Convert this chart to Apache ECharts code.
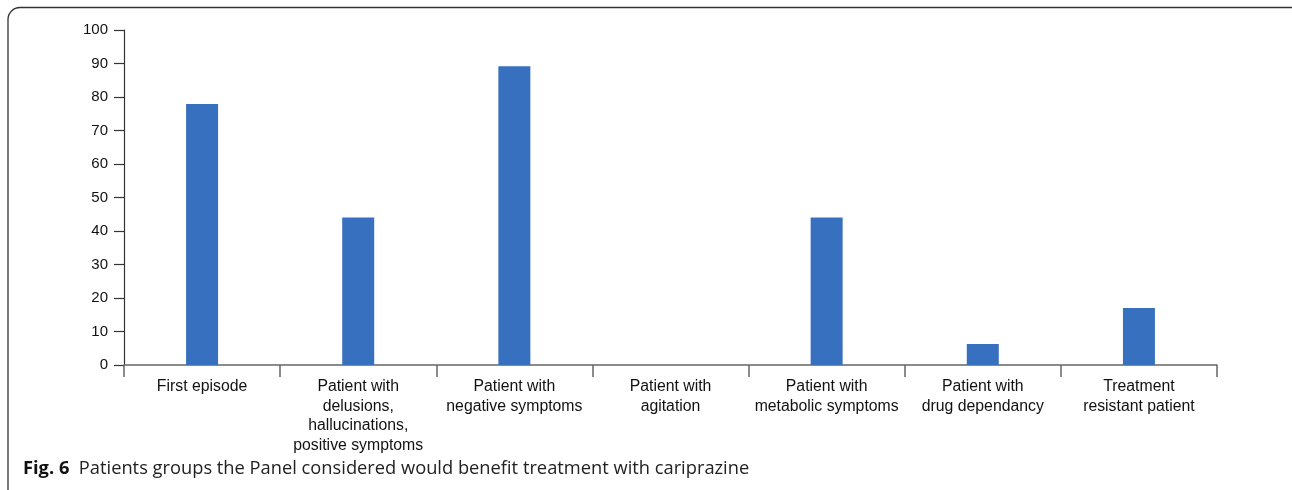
<!DOCTYPE html>
<html><head><meta charset="utf-8">
<script src="https://cdn.jsdelivr.net/npm/echarts@6/dist/echarts.min.js"></script>
<style>html,body{margin:0;padding:0;background:#fff}#c{width:1292px;height:490px}</style>
</head><body><div id="c"></div>
<script>
const categories = ["First episode", "Patient with\ndelusions,\nhallucinations,\npositive symptoms", "Patient with\nnegative symptoms", "Patient with\nagitation", "Patient with\nmetabolic symptoms", "Patient with\ndrug dependancy", "Treatment\nresistant patient"];
const values = [77.9, 44, 89.2, 0, 44, 6.3, 17];
const yTicks = {min: 0, max: 100, interval: 10};
const captionBold = "Fig. 6";
const captionText = "Patients groups the Panel considered would benefit treatment with cariprazine";

const chart = echarts.init(document.getElementById('c'), null, {renderer: 'canvas'});
chart.setOption({
  animation: false,
  grid: {left: 124, right: 75, top: 30, bottom: 125},
  xAxis: {
    type: 'category', data: categories,
    axisLine: {lineStyle: {color: '#666', width: 1.5}},
    axisTick: {show: true, alignWithLabel: false, length: 12, lineStyle: {color: '#666', width: 1.5}},
    axisLabel: {interval: 0, margin: 12, color: '#111', fontSize: 15.8, lineHeight: 19.5, fontFamily: 'Liberation Sans', align: 'center'}
  },
  yAxis: {
    type: 'value', min: yTicks.min, max: yTicks.max, interval: yTicks.interval,
    axisLine: {show: true, lineStyle: {color: '#333', width: 1.2}},
    axisTick: {show: true, inside: false, length: 10, lineStyle: {color: '#333', width: 1.2}},
    axisLabel: {margin: 16, color: '#111', fontSize: 15, fontFamily: 'Liberation Sans'},
    splitLine: {show: false}
  },
  series: [{type: 'bar', data: values, barWidth: 32, itemStyle: {color: '#3870c0'}}],
  graphic: [
    {type: 'rect', shape: {x: 8, y: 7.5, width: 1300, height: 520, r: 12}, style: {fill: 'none', stroke: '#333', lineWidth: 1.3}, silent: true},
    {type: 'text', left: 23, top: 460, style: {
      rich: {b: {fontWeight: 'bold', fontSize: 18.3, fontFamily: 'Open Sans', fill: '#111'}, n: {fontSize: 18.3, fontFamily: 'Open Sans', fill: '#222'}},
      text: '{b|' + captionBold + '}{n|  ' + captionText + '}'
    }}
  ]
});
</script></body></html>
